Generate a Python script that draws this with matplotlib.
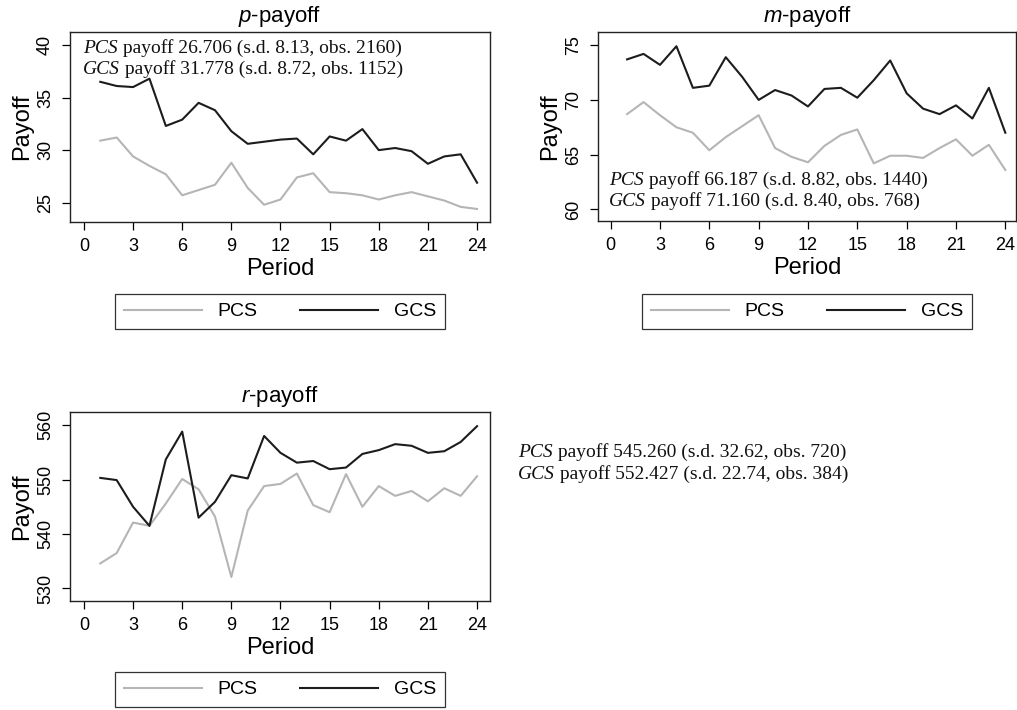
import numpy as np
import matplotlib
matplotlib.use('Agg')
import matplotlib.pyplot as plt
from matplotlib.lines import Line2D

plt.rcParams['font.family'] = ['Liberation Sans', 'DejaVu Sans']
plt.rcParams['mathtext.fontset'] = 'custom'
plt.rcParams['mathtext.it'] = 'Liberation Sans:italic'
plt.rcParams['mathtext.rm'] = 'Liberation Sans'

period = list(range(1, 25))

# p-payoff
p_pcs = [30.9, 31.2, 29.4, 28.5, 27.7, 25.7, 26.2, 26.7, 28.8, 26.4, 24.8, 25.3,
         27.4, 27.8, 26.0, 25.9, 25.7, 25.3, 25.7, 26.0, 25.6, 25.2, 24.6, 24.4]
p_gcs = [36.5, 36.1, 36.0, 36.8, 32.3, 32.9, 34.5, 33.8, 31.8, 30.6, 30.8, 31.0,
         31.1, 29.6, 31.3, 30.9, 32.0, 30.0, 30.2, 29.9, 28.7, 29.4, 29.6, 26.9]

# m-payoff
m_pcs = [68.7, 69.8, 68.6, 67.5, 67.0, 65.4, 66.6, 67.6, 68.6, 65.6, 64.8, 64.3,
         65.8, 66.8, 67.3, 64.2, 64.9, 64.9, 64.7, 65.6, 66.4, 64.9, 65.9, 63.6]
m_gcs = [73.7, 74.2, 73.2, 74.9, 71.1, 71.3, 73.9, 72.1, 70.0, 70.9, 70.4, 69.4,
         71.0, 71.1, 70.2, 71.8, 73.6, 70.6, 69.2, 68.7, 69.5, 68.3, 71.1, 67.0]

# r-payoff
r_pcs = [534.6, 536.5, 542.1, 541.5, 545.6, 550.1, 548.2, 543.2, 532.1, 544.3, 548.8, 549.2,
         551.1, 545.3, 544.0, 551.0, 545.0, 548.8, 547.0, 547.9, 546.0, 548.4, 547.0, 550.6]
r_gcs = [550.3, 549.9, 545.0, 541.5, 553.7, 558.8, 543.0, 545.9, 550.8, 550.2, 558.0, 554.9,
         553.1, 553.4, 551.9, 552.2, 554.7, 555.4, 556.5, 556.2, 554.9, 555.2, 556.9, 559.8]

p_stats = [('PCS', ' payoff 26.706 (s.d. 8.13, obs. 2160)'),
           ('GCS', ' payoff 31.778 (s.d. 8.72, obs. 1152)')]
m_stats = [('PCS', ' payoff 66.187 (s.d. 8.82, obs. 1440)'),
           ('GCS', ' payoff 71.160 (s.d. 8.40, obs. 768)')]
r_stats = [('PCS', ' payoff 545.260 (s.d. 32.62, obs. 720)'),
           ('GCS', ' payoff 552.427 (s.d. 22.74, obs. 384)')]

xticks = list(range(0, 25, 3))
gray = '#b5b5b5'
dark = '#1c1c1c'
serif = 'Liberation Serif'

fig = plt.figure(figsize=(10.17, 7.1), dpi=100)


def panel(rect, pcs, gcs, title, yticks, xlim, ylim, leg_y):
    ax = fig.add_axes(rect)
    ax.plot(period, pcs, color=gray, lw=1.5)
    ax.plot(period, gcs, color=dark, lw=1.5)
    ax.set_xlim(*xlim)
    ax.set_ylim(*ylim)
    ax.set_xticks(xticks)
    ax.set_yticks(yticks)
    ax.tick_params(axis='both', direction='out', length=5.5, width=0.9, labelsize=13, pad=6)
    ax.tick_params(axis='y', labelrotation=90)
    for lab in ax.get_yticklabels():
        lab.set_va('center')
    for s in ax.spines.values():
        s.set_linewidth(1.0)
        s.set_color('#222222')
    ax.set_title(title, fontsize=16, pad=7)
    ax.set_xlabel('Period', fontsize=17, labelpad=2)
    ax.set_ylabel('Payoff', fontsize=17, labelpad=3)
    handles = [Line2D([], [], color=gray, lw=1.5), Line2D([], [], color=dark, lw=1.5)]
    leg = ax.legend(handles, ['PCS', 'GCS'], loc='upper center', bbox_to_anchor=(0.5, leg_y),
                    ncol=2, fancybox=False, edgecolor='#333333', framealpha=1, fontsize=14,
                    borderpad=0.45, borderaxespad=0, handlelength=4.0, handletextpad=0.8,
                    columnspacing=2.2)
    leg.get_frame().set_linewidth(0.9)
    return ax


def stat_lines(ax, x, y, stats, dy):
    # italic group name followed by the plain summary, placed in figure pixels
    for i, (grp, rest) in enumerate(stats):
        t = fig.text(x / 1017, 1 - (y + i * dy) / 710, grp, family=serif, style='italic',
                     fontsize=14, va='baseline', color='#111111')
        ax.annotate(rest, xy=(1, 0), xycoords=t, va='bottom', family=serif,
                    fontsize=14, color='#111111', annotation_clip=False)


ax1 = panel([70 / 1017, 1 - 222 / 710, 420 / 1017, 190 / 710], p_pcs, p_gcs,
            r'$p$-payoff', [25, 30, 35, 40], (-0.85, 24.79), (23.16, 41.24), -0.379)
ax2 = panel([598 / 1017, 1 - 221 / 710, 418 / 1017, 189 / 710], m_pcs, m_gcs,
            r'$m$-payoff', [60, 65, 70, 75], (-0.77, 24.65), (58.94, 76.2), -0.386)
ax3 = panel([70 / 1017, 1 - 601 / 710, 420 / 1017, 189 / 710], r_pcs, r_gcs,
            r'$r$-payoff', [530, 540, 550, 560], (-0.85, 24.79), (527.7, 562.4), -0.376)

stat_lines(ax1, 83, 53, p_stats, 21)
stat_lines(ax2, 609, 185, m_stats, 21)
stat_lines(ax3, 518, 457, r_stats, 22)

fig.savefig('out.png', dpi=100)
